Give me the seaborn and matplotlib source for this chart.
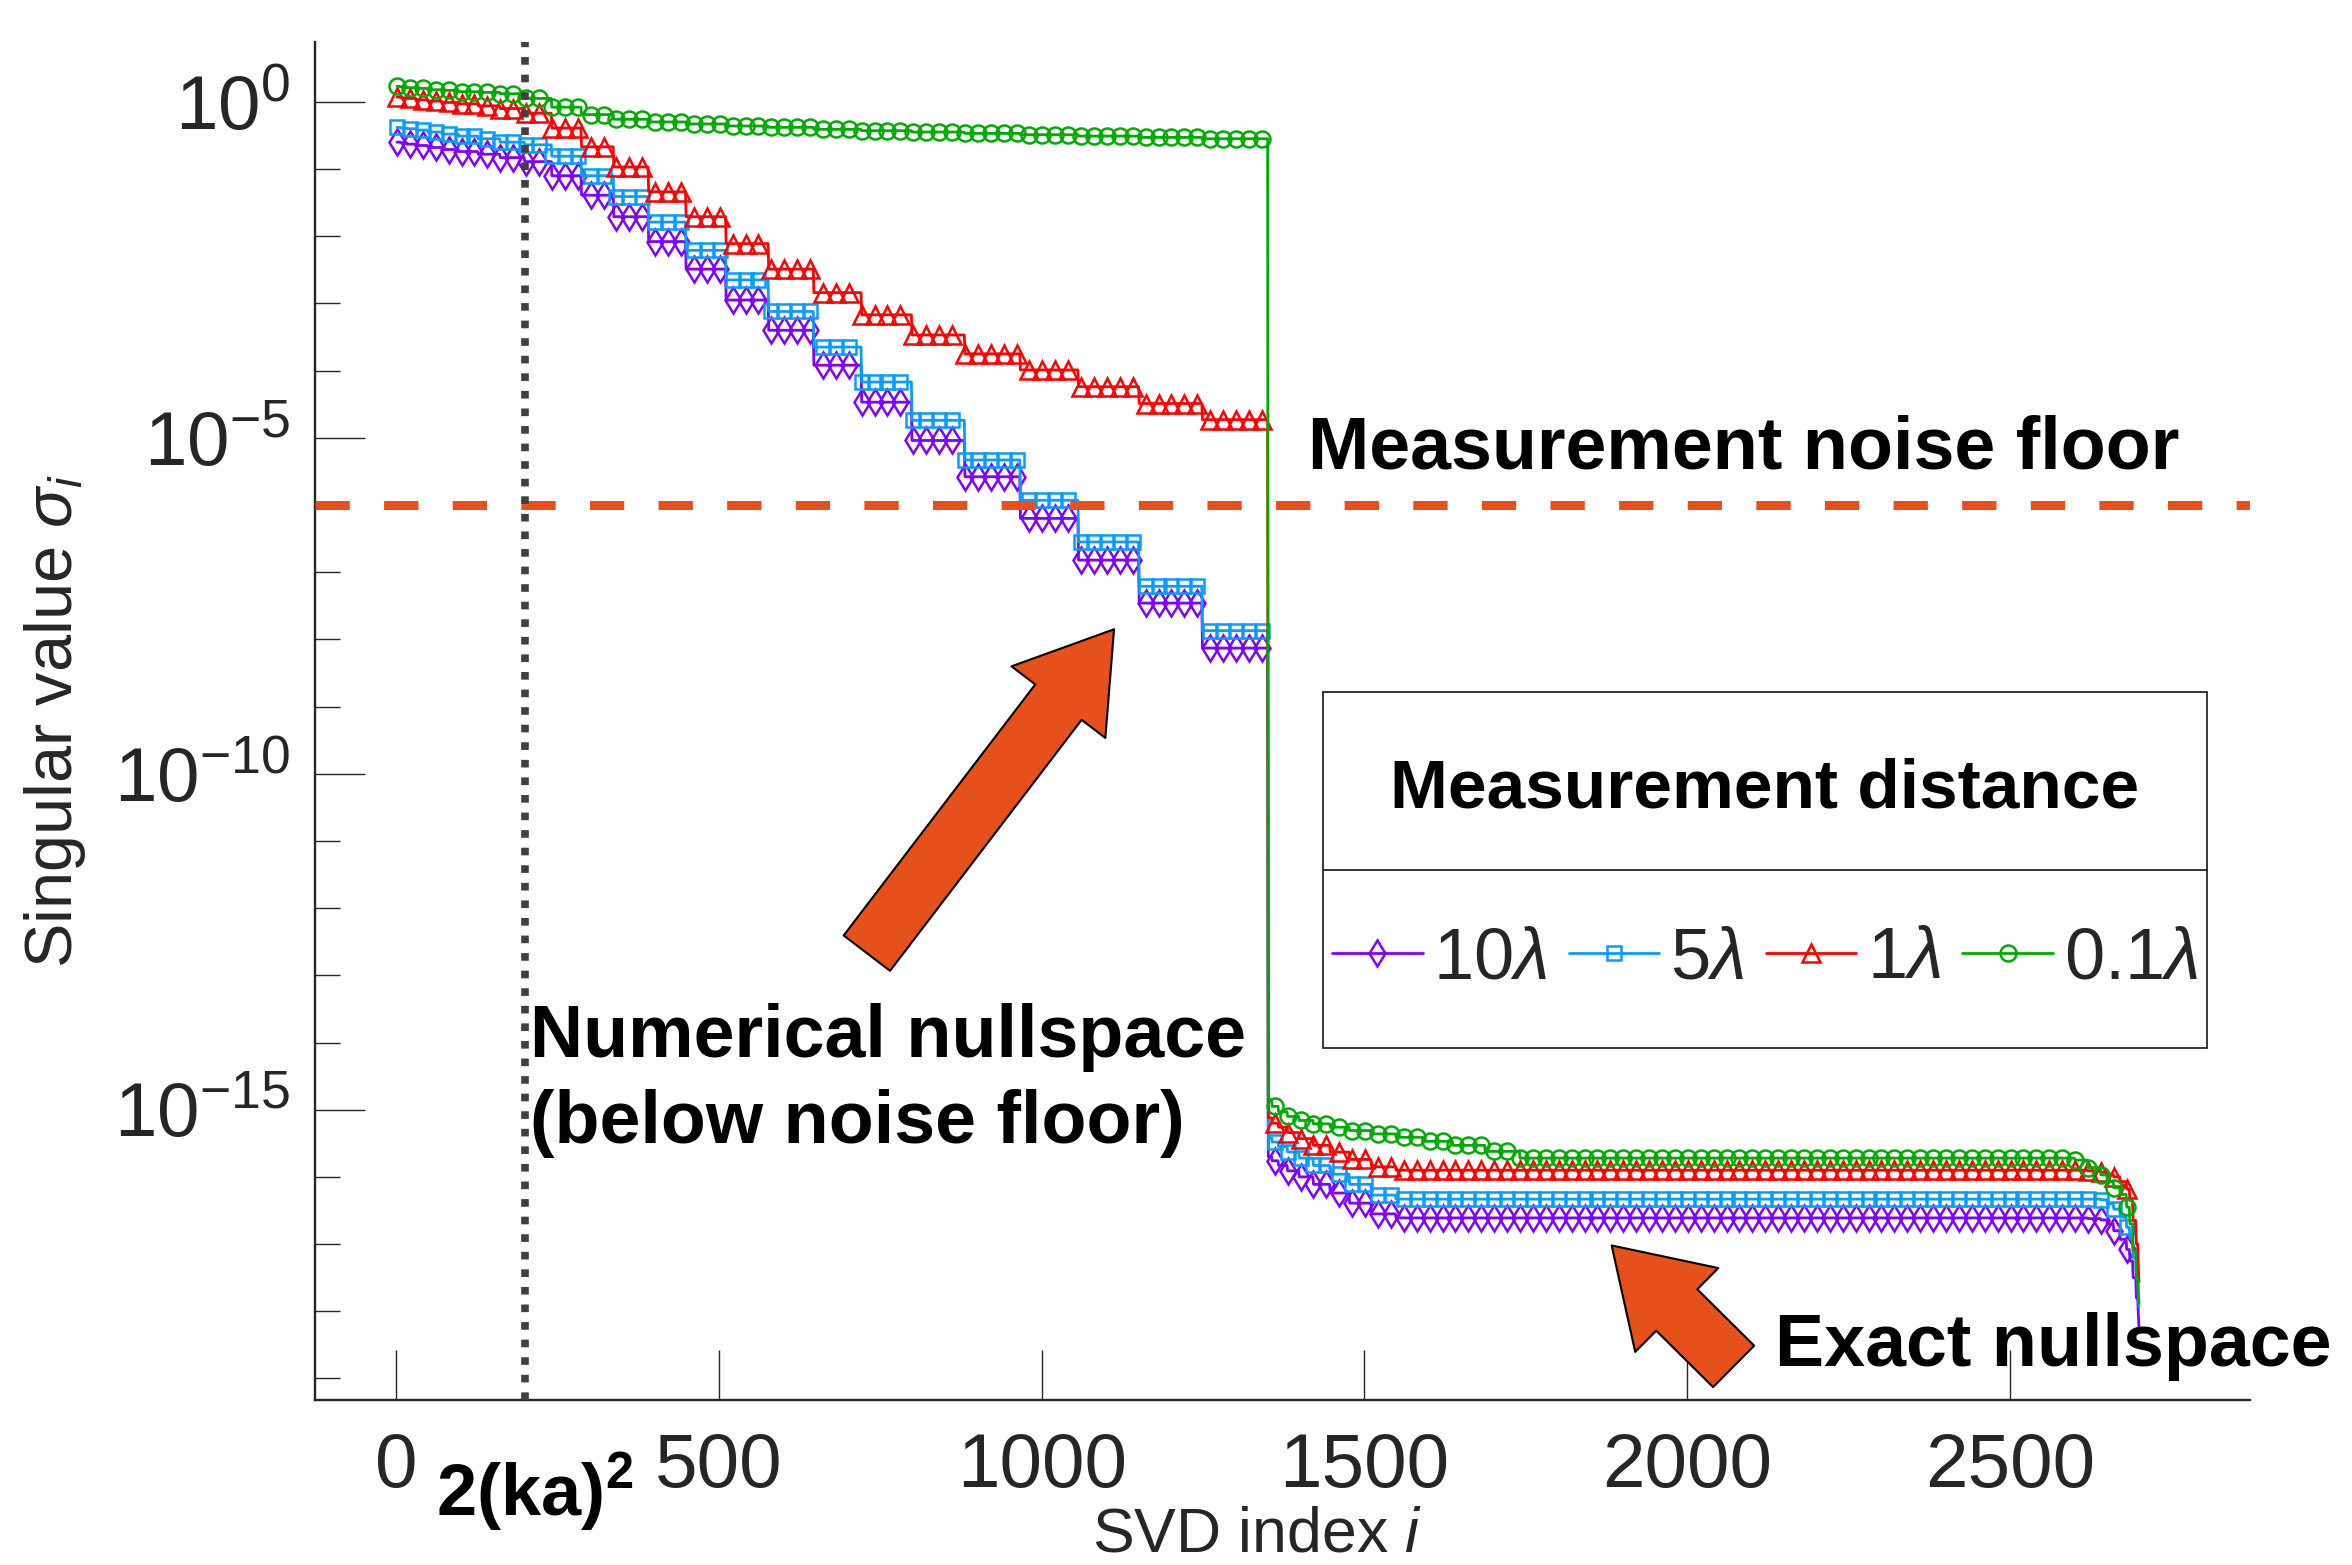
import numpy as np
import pandas as pd
import seaborn as sns
import matplotlib.pyplot as plt
from matplotlib import font_manager
from matplotlib.lines import Line2D
from matplotlib.patches import Rectangle
from matplotlib.ticker import FixedLocator, LogFormatterSciNotation, NullFormatter, NullLocator

# singular values per spherical-harmonic degree n = 1..25 (2 polarisations x (2n+1) orders)
modes_per_degree = [6, 10, 14, 18, 22, 26, 30, 34, 38, 42, 46, 50, 54,
                    58, 62, 66, 70, 74, 78, 82, 86, 90, 94, 98, 102]
# the last 100 singular values (roll-off at the very end), as runs
tail_runs = [20, 20, 10, 10, 10, 10, 5, 5, 5, 3, 1, 1]

# log10(sigma) per degree, radiating part (i = 1..1350)
range_10 = [-0.60, -0.61, -0.63, -0.65, -0.68, -0.71, -0.74, -0.78, -0.83,
            -0.89, -1.10, -1.39, -1.71, -2.08, -2.49, -2.95, -3.40, -3.92,
            -4.47, -5.04, -5.58, -6.20, -6.82, -7.46, -8.13]
range_5 = [-0.38, -0.39, -0.40, -0.42, -0.45, -0.48, -0.51, -0.55, -0.60,
           -0.64, -0.81, -1.10, -1.41, -1.79, -2.21, -2.65, -3.12, -3.65,
           -4.17, -4.74, -5.33, -5.93, -6.55, -7.21, -7.87]
range_1 = [0.07, 0.06, 0.05, 0.03, 0.01, -0.01, -0.03, -0.06, -0.10,
           -0.17, -0.39, -0.67, -0.97, -1.34, -1.71, -2.11, -2.49, -2.84,
           -3.17, -3.47, -3.75, -3.99, -4.24, -4.49, -4.73]
range_01 = [0.23, 0.22, 0.21, 0.20, 0.18, 0.17, 0.15, 0.14, 0.12,
            0.05, -0.08, -0.19, -0.26, -0.30, -0.33, -0.36, -0.38, -0.41,
            -0.43, -0.45, -0.47, -0.49, -0.51, -0.53, -0.55]

# log10(sigma) in the exact nullspace (i = 1351..2700), same block lengths
null_10 = [-15.70, -15.76, -15.83, -15.91, -16.00, -16.11, -16.24, -16.39, -16.55,
           -16.61, -16.61, -16.61, -16.61, -16.61, -16.61, -16.61, -16.61, -16.61,
           -16.61, -16.61, -16.61, -16.61, -16.61, -16.61, -16.61]
null_5 = [-15.42, -15.48, -15.55, -15.63, -15.72, -15.83, -15.96, -16.11, -16.27,
          -16.33, -16.33, -16.33, -16.33, -16.33, -16.33, -16.33, -16.33, -16.33,
          -16.33, -16.33, -16.33, -16.33, -16.33, -16.33, -16.33]
null_1 = [-15.12, -15.20, -15.26, -15.34, -15.43, -15.53, -15.63, -15.74, -15.85,
          -15.90, -15.90, -15.90, -15.90, -15.90, -15.90, -15.90, -15.90, -15.90,
          -15.90, -15.90, -15.90, -15.90, -15.90, -15.90, -15.90]
null_01 = [-14.85, -14.95, -15.03, -15.10, -15.16, -15.21, -15.26, -15.31, -15.36,
           -15.41, -15.47, -15.53, -15.62, -15.72, -15.72, -15.72, -15.72, -15.72,
           -15.72, -15.72, -15.72, -15.72, -15.72, -15.72, -15.72]

# log10(sigma) for the tail runs
tail_10 = [-16.61, -16.62, -16.64, -16.70, -16.80, -16.93, -17.08, -17.25, -17.50, -17.80, -18.05, -18.23]
tail_5 = [-16.33, -16.33, -16.34, -16.40, -16.48, -16.60, -16.75, -16.92, -17.20, -17.50, -17.80, -17.93]
tail_1 = [-15.90, -15.91, -15.93, -15.96, -16.00, -16.07, -16.18, -16.35, -16.65, -17.00, -17.35, -17.56]
tail_01 = [-15.75, -15.86, -15.97, -16.07, -16.16, -16.26, -16.45, -16.70, -17.10, -17.50, -17.75, -17.88]

labels = ["10$\\lambda$", "5$\\lambda$", "1$\\lambda$", "0.1$\\lambda$"]
colors = ["#8000FF", "#0A9BFF", "#FF0000", "#00AA00"]
markers = ["d", "s", "^", "o"]
marker_sizes = [13, 10, 12.5, 11.5]

two_ka_sq = 200
noise_floor = 1e-6
orange = "#E6501A"


def build_series(range_lv, null_lv, tail_lv):
    sv_range = np.repeat(range_lv, modes_per_degree)
    sv_null = np.repeat(null_lv, modes_per_degree)
    sv_null[-sum(tail_runs):] = np.repeat(tail_lv, tail_runs)
    return 10.0 ** np.concatenate([sv_range, sv_null])


series = [build_series(range_10, null_10, tail_10),
          build_series(range_5, null_5, tail_5),
          build_series(range_1, null_1, tail_1),
          build_series(range_01, null_01, tail_01)]
df = pd.DataFrame({"i": np.arange(1, len(series[0]) + 1)})
for lab, sv in zip(labels, series):
    df[lab] = sv

sns.set_style("white")
available = {f.name for f in font_manager.fontManager.ttflist}
narrow = "Liberation Sans Narrow" if "Liberation Sans Narrow" in available else "Liberation Sans"
plt.rcParams["font.family"] = "Liberation Sans"
plt.rcParams["mathtext.fontset"] = "custom"
plt.rcParams["mathtext.rm"] = "Liberation Sans"
plt.rcParams["mathtext.it"] = "Liberation Sans:italic"
plt.rcParams["mathtext.bf"] = "Liberation Sans:bold"

W, H = 2352, 1565
fig = plt.figure(figsize=(W / 100, H / 100), dpi=100)
ax = fig.add_axes([315 / W, 1 - 1400 / H, (2250 - 315) / W, (1400 - 42) / H])
ax.set_yscale("log")

for lab, col, mk, ms in zip(labels, colors, markers, marker_sizes):
    sns.lineplot(data=df, x="i", y=lab, ax=ax, color=col, marker=mk, markersize=ms,
                 markevery=20, markerfacecolor="none", markeredgecolor=col,
                 markeredgewidth=1.8, linewidth=2, estimator=None, errorbar=None,
                 legend=False)
handles = list(ax.get_lines())

ax.axhline(noise_floor, color=orange, lw=6.5, dashes=(3.8, 3.8), zorder=5)
ax.axvline(two_ka_sq, color="#404040", lw=5.5, dashes=(1, 1.3), zorder=5)

ax.set_xlim(-126, 2872)
ax.set_ylim(10 ** -19.32, 10 ** 0.89)
ax.xaxis.set_major_locator(FixedLocator([0, 500, 1000, 1500, 2000, 2500]))
ax.xaxis.set_minor_locator(NullLocator())
ax.yaxis.set_major_locator(FixedLocator([1e0, 1e-5, 1e-10, 1e-15]))
ax.yaxis.set_major_formatter(LogFormatterSciNotation())
ax.yaxis.set_minor_locator(FixedLocator(10.0 ** np.arange(-19, 1)))
ax.yaxis.set_minor_formatter(NullFormatter())
ax.tick_params(which="both", direction="in", color="#262626", width=1.0,
               bottom=True, left=True, top=False, right=False,
               labelsize=55, labelcolor="#262626", labelfontfamily=narrow)
ax.tick_params(which="major", length=36)
ax.tick_params(which="minor", length=18)
ax.tick_params(axis="x", pad=23)
ax.tick_params(axis="y", pad=18)
sns.despine(ax=ax)
for side in ["left", "bottom"]:
    ax.spines[side].set_linewidth(1.7)
    ax.spines[side].set_color("#262626")

ax.set_xlabel("SVD index $i$", fontsize=45, color="#262626", va="baseline")
ax.xaxis.set_label_coords(0.487, -0.1112)
ax.set_ylabel("Singular value $\\sigma_i$", fontsize=48, color="#262626", va="baseline")
ax.yaxis.set_label_coords(-0.1256, 0.5)

blended = ax.get_xaxis_transform()
ax.text(215, -0.0847, "$\\mathdefault{2(ka)^2}$", transform=blended, ha="center",
        va="baseline", fontsize=52, fontweight="bold", color="black")

bold = dict(fontsize=53, fontweight="bold", color="black", va="baseline", ha="left")
ax.text(1412, 10 ** -5.45, "Measurement noise floor", **bold)
ax.text(207, 10 ** -14.22, "Numerical nullspace", **bold)
ax.text(207, 10 ** -15.49, "(below noise floor)", **bold)
ax.text(2136, 10 ** -18.82, "Exact nullspace", clip_on=False, **bold)

arrow = dict(arrowstyle="simple,head_length=66,head_width=85,tail_width=42",
             mutation_scale=1, fc=orange, ec="black", lw=1.5, shrinkA=0, shrinkB=0)
ax.annotate("", xy=(1112, 10 ** -7.85), xytext=(729, 10 ** -12.67), arrowprops=arrow)
ax.annotate("", xy=(1883, 10 ** -17.02), xytext=(2072, 10 ** -18.82), arrowprops=arrow)

# legend box with a title row and an entries row
box_l, box_r, box_t, box_m, box_b = 1323, 2207, 692, 870, 1048
fig.patches.append(Rectangle((box_l / W, 1 - box_b / H), (box_r - box_l) / W, (box_b - box_t) / H,
                             transform=fig.transFigure, facecolor="white",
                             edgecolor="#262626", lw=1.3, zorder=1))
fig.lines.append(Line2D([box_l / W, box_r / W], [1 - box_m / H, 1 - box_m / H],
                        transform=fig.transFigure, color="#262626", lw=1.3, zorder=2))
fig.text((box_l + box_r) / 2 / W, 1 - 808 / H, "Measurement distance", ha="center",
         va="baseline", fontsize=50, fontweight="bold", color="black", zorder=3)
fig.legend(handles, labels, loc="center", bbox_to_anchor=((box_l + box_r) / 2 / W, 1 - 960 / H),
           bbox_transform=fig.transFigure, ncol=4, frameon=False,
           prop={"family": narrow, "size": 52}, handlelength=1.25, handletextpad=0.15,
           columnspacing=0.3, borderpad=0, borderaxespad=0)

fig.savefig("out.png", dpi=100, facecolor="white")
